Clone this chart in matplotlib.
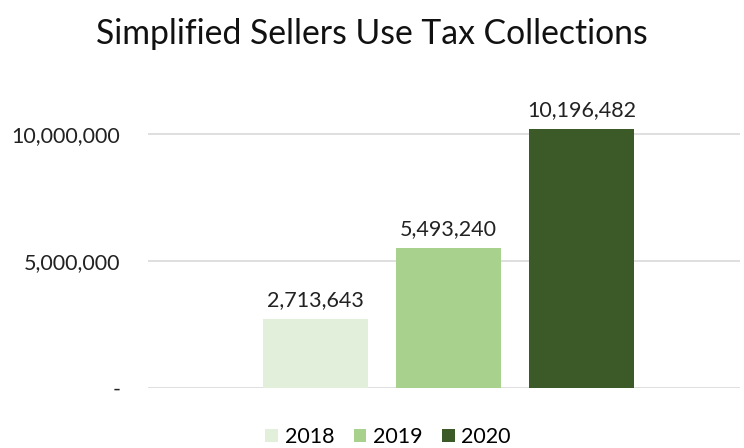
import matplotlib
matplotlib.use("Agg")
import matplotlib.pyplot as plt
from matplotlib.ticker import FuncFormatter

years = ["2018", "2019", "2020"]
values = [2713643, 5493240, 10196482]
colors = ["#E2EFDA", "#A9D18E", "#3B5A27"]

plt.rcParams['font.family'] = ['Lato', 'DejaVu Sans']

fig = plt.figure(figsize=(7.44, 4.48), dpi=100)
ax = fig.add_axes([148 / 744, 60 / 448, 592 / 744, 305 / 448])

width = 0.79
for i, (yr, v, c) in enumerate(zip(years, values, colors)):
    ax.bar(i, v, width=width, color=c, label=yr, zorder=3)
    ax.text(i, v + 350000, f"{v:,}", ha="center", va="bottom", fontsize=15.5, color="#222222")

ax.set_xlim(-1.26, 3.19)
ax.set_ylim(0, 12000000)
ax.set_yticks([0, 5000000, 10000000])
ax.yaxis.set_major_formatter(FuncFormatter(lambda v, p: "-" if v == 0 else f"{int(v):,}"))
ax.tick_params(axis="y", length=0, pad=20, labelsize=15.5, labelcolor="#222222")
ax.set_xticks([])
ax.grid(axis="y", color="#D9D9D9", linewidth=1.2, zorder=0)
for s in ax.spines.values():
    s.set_visible(False)

fig.suptitle("Simplified Sellers Use Tax Collections", y=0.96, fontsize=24.3, color="#111111")

fig.legend(loc="center", bbox_to_anchor=(388 / 744, 1 - 437 / 448), ncol=3, frameon=False,
           fontsize=15.5, handlelength=0.6, handleheight=0.6, handletextpad=0.3, columnspacing=0.9)

fig.savefig("out.png", dpi=100)
